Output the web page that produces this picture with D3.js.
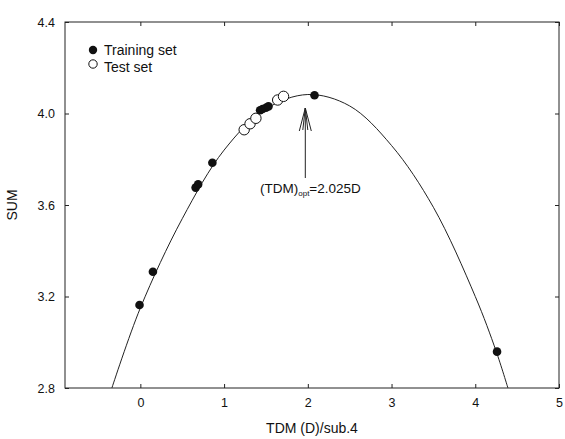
<!DOCTYPE html>
<html>
<head>
<meta charset="utf-8">
<script src="https://cdn.jsdelivr.net/npm/d3@7"></script>
<style>
html,body{margin:0;padding:0;background:#fff;}
text{font-family:"Liberation Sans",Arial,sans-serif;fill:#111;}
</style>
</head>
<body>
<svg id="chart" width="565" height="439"></svg>
<script>
// Data
const trainingX = [-0.01, 0.15, 0.66, 0.69, 0.86, 1.43, 1.46, 1.50, 1.53, 2.08, 4.26];
const trainingY = [3.163, 3.308, 3.676, 3.690, 3.785, 4.014, 4.020, 4.025, 4.031, 4.080, 2.959];
const testX = [1.24, 1.31, 1.38, 1.64, 1.71];
const testY = [3.929, 3.955, 3.979, 4.059, 4.075];
const curveX = [-0.34, 0, 0.5, 1.0, 1.5, 2.0, 2.5, 3.0, 3.5, 4.0, 4.25, 4.39];
const curveY = [2.80, 3.15, 3.54, 3.84, 4.02, 4.083, 4.033, 3.86, 3.59, 3.20, 2.96, 2.80];
const xTicks = [0, 1, 2, 3, 4, 5];
const yTicks = [2.8, 3.2, 3.6, 4.0, 4.4];
const xDomain = [-0.9, 5];
const yDomain = [2.8, 4.4];
const legendLabels = ["Training set", "Test set"];
const optX = 1.97;      // arrow position (data)
const optTipY = 4.024;  // arrow tip (data)

const W = 565, H = 439;
const m = {left: 65, right: 6, top: 22, bottom: 51};
const svg = d3.select("#chart");
const x = d3.scaleLinear().domain(xDomain).range([m.left, W - m.right]);
const y = d3.scaleLinear().domain(yDomain).range([H - m.bottom, m.top]);

const tickLen = 4;
const fmtY = d3.format(".1f");

// Frame
svg.append("rect")
  .attr("x", x(xDomain[0])).attr("y", y(yDomain[1]))
  .attr("width", x(xDomain[1]) - x(xDomain[0]))
  .attr("height", y(yDomain[0]) - y(yDomain[1]))
  .attr("fill", "none").attr("stroke", "#222").attr("stroke-width", 1);

// Axes (inward ticks)
const axB = svg.append("g").attr("transform", `translate(0,${y(yDomain[0])})`)
  .call(d3.axisBottom(x).tickValues(xTicks).tickSizeInner(-tickLen).tickSizeOuter(0).tickPadding(10).tickFormat(d3.format("d")));
const axT = svg.append("g").attr("transform", `translate(0,${y(yDomain[1])})`)
  .call(d3.axisTop(x).tickValues(xTicks).tickSizeInner(-tickLen).tickSizeOuter(0).tickFormat(""));
const axL = svg.append("g").attr("transform", `translate(${x(xDomain[0])},0)`)
  .call(d3.axisLeft(y).tickValues(yTicks).tickSizeInner(-tickLen).tickSizeOuter(0).tickPadding(10).tickFormat(fmtY));
const axR = svg.append("g").attr("transform", `translate(${x(xDomain[1])},0)`)
  .call(d3.axisRight(y).tickValues(yTicks).tickSizeInner(-tickLen).tickSizeOuter(0).tickFormat(""));
[axB, axT, axL, axR].forEach(g => {
  g.select(".domain").remove();
  g.selectAll(".tick line").attr("stroke", "#222");
  g.selectAll(".tick text").attr("font-size", 12.5).attr("fill", "#111")
    .style("font-family", '"Liberation Sans",Arial,sans-serif');
});

// Axis titles
svg.append("text").attr("x", (x(xDomain[0]) + x(xDomain[1])) / 2).attr("y", 433)
  .attr("text-anchor", "middle").attr("font-size", 14).text("TDM (D)/sub.4");
svg.append("text").attr("transform", `translate(17,${(y(yDomain[0]) + y(yDomain[1])) / 2}) rotate(-90)`)
  .attr("text-anchor", "middle").attr("font-size", 14).text("SUM");

// Fitted curve
const curveData = curveX.map((d, i) => [d, curveY[i]]);
svg.append("path").datum(curveData)
  .attr("fill", "none").attr("stroke", "#222").attr("stroke-width", 1)
  .attr("d", d3.line().x(d => x(d[0])).y(d => y(d[1])).curve(d3.curveCatmullRom.alpha(0.5)));

// Points
const train = trainingX.map((d, i) => [d, trainingY[i]]);
const test = testX.map((d, i) => [d, testY[i]]);
svg.append("g").selectAll("circle").data(test).join("circle")
  .attr("cx", d => x(d[0])).attr("cy", d => y(d[1])).attr("r", 5.2)
  .attr("fill", "#fff").attr("stroke", "#111").attr("stroke-width", 1);
svg.append("g").selectAll("circle").data(train).join("circle")
  .attr("cx", d => x(d[0])).attr("cy", d => y(d[1])).attr("r", 4.3)
  .attr("fill", "#111");

// Legend
const lg = svg.append("g");
lg.append("circle").attr("cx", 93).attr("cy", 50).attr("r", 4.2).attr("fill", "#111");
lg.append("circle").attr("cx", 93).attr("cy", 64).attr("r", 4.2).attr("fill", "#fff").attr("stroke", "#111");
lg.append("text").attr("x", 104).attr("y", 55).attr("font-size", 14).text(legendLabels[0]);
lg.append("text").attr("x", 104).attr("y", 72).attr("font-size", 14).text(legendLabels[1]);

// Annotation arrow
const ax = x(optX), tipY = y(optTipY);
const ag = svg.append("g").attr("stroke", "#222").attr("stroke-width", 1).attr("fill", "none");
ag.append("line").attr("x1", ax).attr("y1", tipY).attr("x2", ax).attr("y2", tipY + 70);
ag.append("line").attr("x1", ax).attr("y1", tipY).attr("x2", ax - 6).attr("y2", tipY + 23);
ag.append("line").attr("x1", ax).attr("y1", tipY).attr("x2", ax + 6).attr("y2", tipY + 23);
ag.append("line").attr("x1", ax).attr("y1", tipY).attr("x2", ax - 2.5).attr("y2", tipY + 22);
ag.append("line").attr("x1", ax).attr("y1", tipY).attr("x2", ax + 2.5).attr("y2", tipY + 22);

const ann = svg.append("text").attr("x", 260).attr("y", tipY + 85).attr("font-size", 13.5);
ann.append("tspan").text("(TDM)");
ann.append("tspan").attr("font-size", 8).attr("dy", 3).text("opt");
ann.append("tspan").attr("dy", -3).text("=2.025D");
</script>
</body>
</html>
